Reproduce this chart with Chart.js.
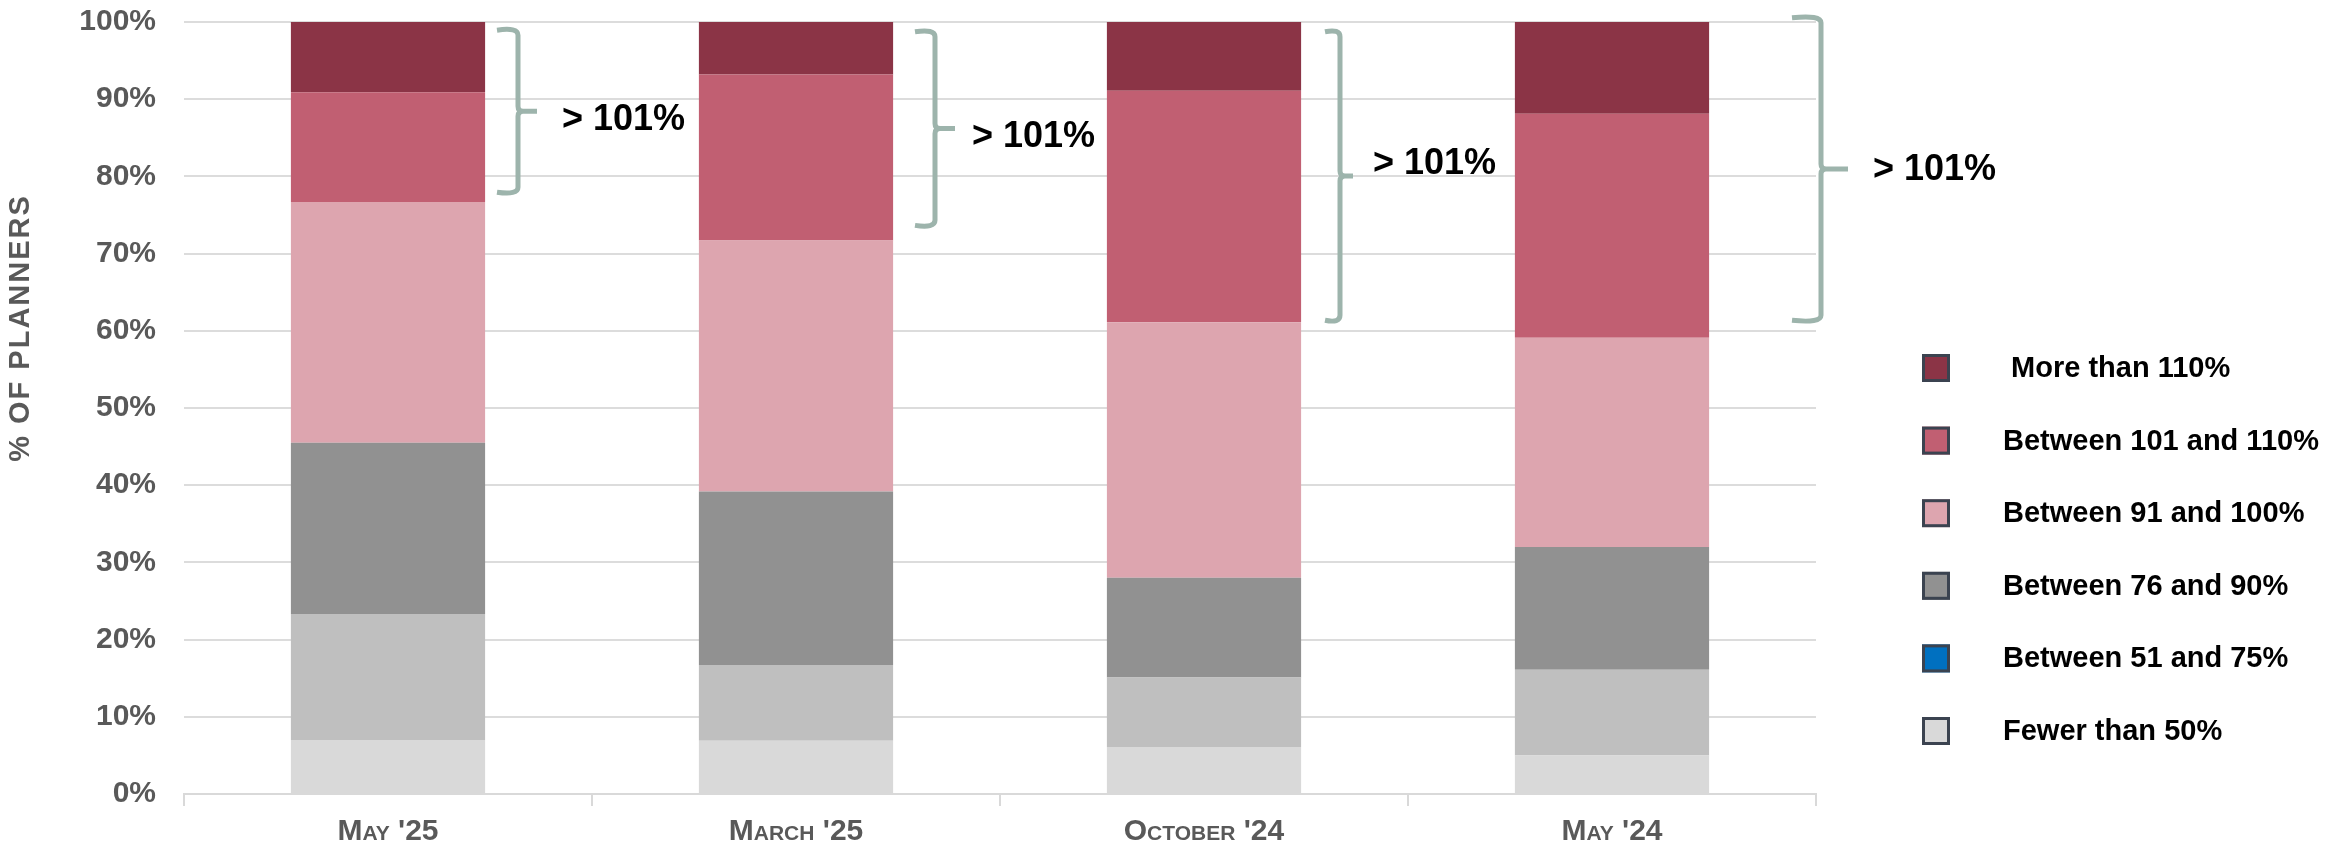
<!DOCTYPE html>
<html>
<head>
<meta charset="utf-8">
<script src="https://cdn.jsdelivr.net/npm/chart.js@4.4.1/dist/chart.umd.min.js"></script>
<style>
    html, body { margin: 0; padding: 0; background: #fff; }
    #wrap { width: 2331px; height: 850px; }
</style>
</head>
<body>
<div id="wrap"><canvas id="plannerChart" width="2331" height="850"></canvas></div>
<script>
// Categories and stacked series (bottom segment first)
const categories = ["May '25", "March '25", "October '24", "May '24"];
const seriesNames = ['Fewer than 50%', 'Between 51 and 75%', 'Between 76 and 90%', 'Between 91 and 100%', 'Between 101 and 110%', ' More than 110%'];
const fewerThan50 = [7.0, 6.9, 6.1, 5.0];
const between51and75 = [16.3, 9.8, 9.0, 11.1];
const between76and90 = [22.2, 22.5, 12.9, 15.9];
const between91and100 = [31.2, 32.5, 33.1, 27.1];
const between101and110 = [14.2, 21.5, 30.0, 29.0];
const moreThan110 = [9.1, 6.8, 8.9, 11.9];

// Bracket annotations ("> 101%") - extent in axis values
const bracketTop = [99.2, 99.0, 99.0, 100.8];
const bracketBottom = [77.7, 73.4, 61.1, 61.1];
const bracketText = '> 101%';

// Colours
const barColors = ['#d9d9d9', '#bfbfbf', '#919191', '#dda5af', '#c15f72', '#8b3446'];
const legendColors = ['#d9d9d9', '#0070c0', '#919191', '#dda5af', '#c15f72', '#8b3446'];
const seriesValues = [fewerThan50, between51and75, between76and90, between91and100, between101and110, moreThan110];

const FONT = "'Liberation Sans', Arial, sans-serif";
Chart.defaults.font.family = FONT;

// bracket geometry, pixels relative to category centre
const bracketStyle = [
    { left: 109, hook: 21, tip: 19, gap: 25, dy: 9 },
    { left: 119, hook: 20, tip: 20, gap: 17, dy: 9 },
    { left: 121, hook: 15, tip: 13, gap: 20, dy: -12 },
    { left: 180, hook: 29, tip: 27, gap: 25, dy: 1 }
];

const drawBrace = (ctx, xl, xv, xt, yt, yb) => {
    const ym = (yt + yb) / 2;
    const r = 7, r2 = 5;
    ctx.beginPath();
    ctx.moveTo(xl, yt + 2);
    ctx.quadraticCurveTo(xv, yt - 1, xv, yt + r);
    ctx.lineTo(xv, ym - r2);
    ctx.quadraticCurveTo(xv, ym, xv + r2, ym);
    ctx.lineTo(xt, ym);
    ctx.moveTo(xv + r2, ym);
    ctx.quadraticCurveTo(xv, ym, xv, ym + r2);
    ctx.lineTo(xv, yb - r);
    ctx.quadraticCurveTo(xv, yb + 1, xl, yb - 2);
    ctx.stroke();
};

const extrasPlugin = {
    id: 'extras',
    afterDraw(chart) {
        const ctx = chart.ctx;
        const x = chart.scales.x, y = chart.scales.y;
        ctx.save();

        // y axis title
        ctx.save();
        ctx.translate(21, 328);
        ctx.rotate(-Math.PI / 2);
        ctx.font = 'bold 29px ' + FONT;
        ctx.letterSpacing = '2px';
        ctx.fillStyle = '#595959';
        ctx.textAlign = 'center';
        ctx.textBaseline = 'middle';
        ctx.fillText('% OF PLANNERS', 0, 0);
        ctx.restore();

        // brackets
        ctx.strokeStyle = '#9db4ac';
        ctx.lineWidth = 5;
        ctx.lineCap = 'butt';
        ctx.font = 'bold 36px ' + FONT;
        ctx.fillStyle = '#000';
        ctx.textAlign = 'left';
        ctx.textBaseline = 'middle';
        categories.forEach((c, i) => {
            const s = bracketStyle[i];
            const cx = x.getPixelForValue(i);
            const xl = cx + s.left, xv = xl + s.hook, xt = xv + s.tip;
            const yt = y.getPixelForValue(bracketTop[i]);
            const yb = y.getPixelForValue(bracketBottom[i]);
            drawBrace(ctx, xl, xv, xt, yt, yb);
            ctx.fillText(bracketText, xt + s.gap, (yt + yb) / 2 + s.dy);
        });

        // legend (top item = last dataset)
        ctx.font = 'bold 29px ' + FONT;
        ctx.textBaseline = 'middle';
        for (let k = 0; k < seriesNames.length; k++) {
            const idx = seriesNames.length - 1 - k;
            const cy = 368 + k * 72.6;
            ctx.fillStyle = legendColors[idx];
            ctx.fillRect(1922, cy - 14, 28, 28);
            ctx.strokeStyle = '#3b4350';
            ctx.lineWidth = 3;
            ctx.strokeRect(1923.5, cy - 12.5, 25, 25);
            ctx.fillStyle = '#000';
            ctx.fillText(seriesNames[idx], 2003, cy + 1);
        }
        ctx.restore();
    }
};

const ctx = document.getElementById('plannerChart').getContext('2d');
const plannerChart = new Chart(ctx, {
    type: 'bar',
    data: {
        labels: categories,
        datasets: seriesNames.map((name, i) => ({
            label: name,
            data: seriesValues[i],
            backgroundColor: barColors[i],
            borderWidth: 0,
            categoryPercentage: 1,
            barPercentage: 0.476
        }))
    },
    options: {
        responsive: false,
        animation: false,
        devicePixelRatio: 1,
        layout: { padding: { top: 22, right: 515, bottom: 0, left: 0 } },
        plugins: {
            legend: { display: false },
            tooltip: { enabled: false }
        },
        scales: {
            x: {
                stacked: true,
                offset: true,
                afterFit: (scale) => {
                    scale.height = 56;
                    scale.paddingLeft = 0;
                    scale.paddingRight = 0;
                },
                border: { display: true, color: '#d9d9d9', width: 2 },
                grid: {
                    offset: true,
                    drawOnChartArea: false,
                    drawTicks: true,
                    tickLength: 12,
                    color: '#d9d9d9',
                    lineWidth: 2
                },
                ticks: {
                    color: '#595959',
                    padding: 8,
                    font: { size: 30, weight: 'small-caps bold' }
                }
            },
            y: {
                stacked: true,
                min: 0,
                max: 100,
                afterFit: (scale) => {
                    scale.width = 184;
                    scale.paddingTop = 0;
                    scale.paddingBottom = 0;
                },
                border: { display: false },
                grid: { color: '#dcdcdc', lineWidth: 2, drawTicks: false },
                ticks: {
                    stepSize: 10,
                    padding: 28,
                    color: '#595959',
                    font: { size: 30, weight: 'bold' },
                    callback: (v) => v + '%'
                }
            }
        }
    },
    plugins: [extrasPlugin]
});
</script>
</body>
</html>
